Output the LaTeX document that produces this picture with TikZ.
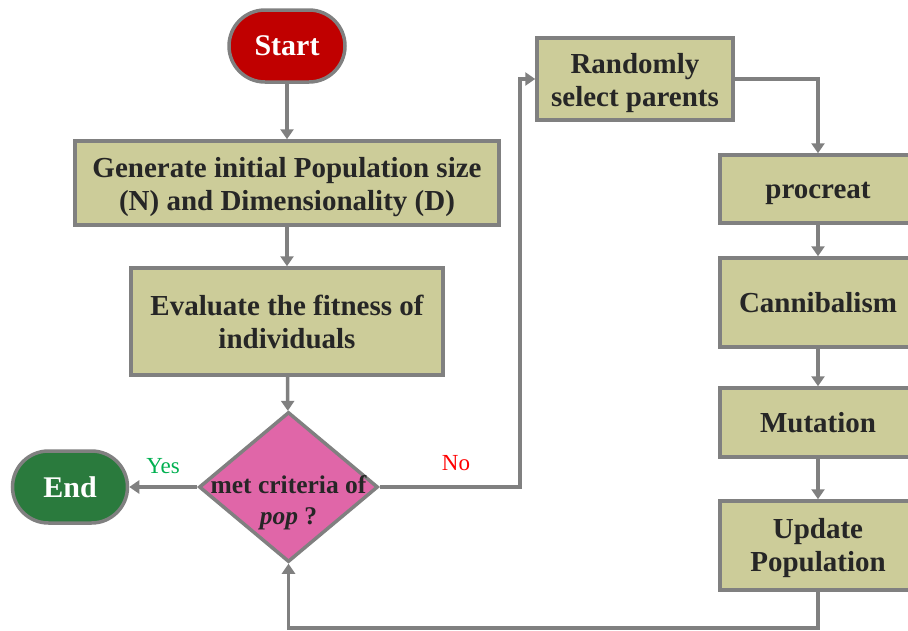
\documentclass[tikz,border=0pt]{standalone}
\usepackage{fontspec}
\setmainfont{Liberation Serif}
\usetikzlibrary{shapes.geometric,arrows.meta}
\definecolor{boxfill}{HTML}{CCCC99}
\definecolor{edgegray}{HTML}{808080}
\definecolor{txtdark}{HTML}{262626}
\definecolor{startred}{HTML}{C00000}
\definecolor{endgreen}{HTML}{2A7A3D}
\definecolor{diapink}{HTML}{E066A8}
\definecolor{yesgreen}{HTML}{00B050}
\definecolor{nored}{HTML}{FF0000}
\newcommand{\lowerfirst}[1]{\rule{0pt}{#1}}
\tikzset{
  procbox/.style={draw=edgegray, line width=3.5pt, fill=boxfill, rectangle, align=center,
    inner sep=0pt, text=txtdark, font=\fontsize{29}{33}\selectfont\bfseries},
  term/.style={draw=edgegray, line width=3.5pt, rectangle, rounded corners=36pt, align=center,
    inner sep=0pt, text=white, font=\fontsize{30}{33}\selectfont\bfseries},
  dia/.style={draw=edgegray, line width=3.5pt, fill=diapink, diamond, inner sep=0pt,
    minimum width=179pt, minimum height=150pt},
  diatext/.style={align=center, inner sep=0pt, text=txtdark, font=\fontsize{25.5}{31}\selectfont\bfseries},
  conn/.style={draw=edgegray, line width=3.5pt, -{Triangle[length=10pt,width=13pt]}},
  lbl/.style={inner sep=0pt, font=\fontsize{23}{26}\selectfont}
}
\begin{document}
\begin{tikzpicture}[x=1pt,y=-1pt]
\useasboundingbox (0,0) rectangle (908,630);
\clip (0,0) rectangle (908,630);
\node[term, fill=startred, minimum width=116pt, minimum height=72pt] (start) at (287,46) {Start};
\node[procbox, minimum width=424pt, minimum height=84pt] (gen) at (287,183) {\lowerfirst{28pt}Generate initial Population size\\(N) and Dimensionality (D)};
\node[procbox, minimum width=312pt, minimum height=107pt] (eval) at (287,321.5) {Evaluate the fitness of\\individuals};
\node[dia] (dec) at (288.5,487) {};
\node[diatext] (dectxt) at (288.5,503) {met criteria of\\\textit{pop} ?};
\node[term, fill=endgreen, minimum width=115pt, minimum height=72pt] (end) at (70,487) {End};
\node[procbox, minimum width=196pt, minimum height=82pt] (rand) at (635,79) {\lowerfirst{28pt}Randomly\\select parents};
\node[procbox, minimum width=196pt, minimum height=68pt] (proc) at (818,189) {\lowerfirst{26pt}procreat};
\node[procbox, minimum width=196pt, minimum height=89pt] (cann) at (818,302.5) {Cannibalism};
\node[procbox, minimum width=196pt, minimum height=69pt] (mut) at (818,422.5) {Mutation};
\node[procbox, minimum width=196pt, minimum height=89pt] (upd) at (818,545.5) {\lowerfirst{26pt}Update\\Population};
\node[lbl, text=yesgreen] (yes) at (163,466) {Yes};
\node[lbl, text=nored] (no) at (456,463) {No};
\coordinate (c1) at (520,487);
\coordinate (c2) at (520,79);
\coordinate (c3) at (818,79);
\coordinate (c4) at (818,628);
\coordinate (c5) at (288.5,628);
\draw[conn] (start) -- (gen);
\draw[conn] (gen) -- (eval);
\draw[conn] (eval) -- (dec);
\draw[conn] (dec.west) -- (end);
\draw[conn] (dec.east) -- (c1) -- (c2) -- (rand.west);
\draw[conn] (rand.east) -- (c3) -- (proc.north);
\draw[conn] (proc) -- (cann);
\draw[conn] (cann) -- (mut);
\draw[conn] (mut) -- (upd);
\draw[conn] (upd.south) -- (c4) -- (c5) -- (dec.south);
\end{tikzpicture}
\end{document}
